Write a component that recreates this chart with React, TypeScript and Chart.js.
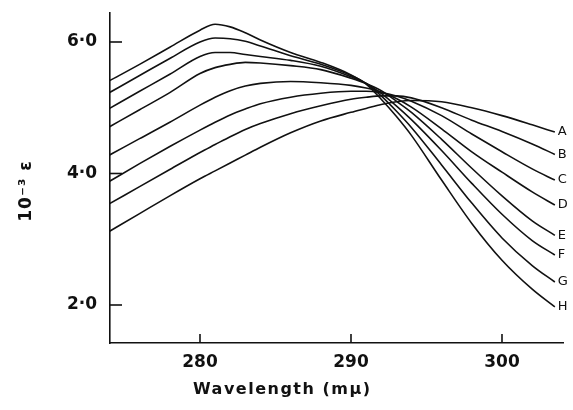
import React, { useEffect, useRef } from "react";
import { Chart, registerables } from "chart.js";

Chart.register(...registerables);

const wavelengths = [274, 276, 278, 280, 281, 282, 283, 284, 286, 288, 290, 291, 292, 293, 294, 296, 298, 300, 302, 303.5];

const curveA = [3.12, 3.39, 3.66, 3.92, 4.04, 4.16, 4.28, 4.40, 4.62, 4.80, 4.93, 4.99, 5.05, 5.09, 5.11, 5.09, 5.00, 4.88, 4.74, 4.63];
const curveB = [3.54, 3.80, 4.06, 4.32, 4.44, 4.56, 4.67, 4.76, 4.91, 5.03, 5.13, 5.16, 5.18, 5.18, 5.15, 5.00, 4.81, 4.64, 4.45, 4.29];
const curveC = [3.88, 4.15, 4.41, 4.66, 4.78, 4.89, 4.98, 5.06, 5.16, 5.22, 5.25, 5.25, 5.23, 5.18, 5.10, 4.88, 4.60, 4.33, 4.07, 3.90];
const curveD = [4.28, 4.53, 4.78, 5.04, 5.16, 5.26, 5.33, 5.37, 5.40, 5.38, 5.34, 5.30, 5.24, 5.14, 5.01, 4.68, 4.33, 4.02, 3.72, 3.52];
const curveE = [4.71, 4.97, 5.23, 5.52, 5.61, 5.66, 5.69, 5.68, 5.64, 5.58, 5.45, 5.37, 5.26, 5.10, 4.93, 4.52, 4.08, 3.66, 3.28, 3.06];
const curveF = [4.99, 5.25, 5.51, 5.78, 5.84, 5.84, 5.81, 5.78, 5.72, 5.63, 5.47, 5.37, 5.22, 5.03, 4.82, 4.35, 3.85, 3.38, 2.98, 2.76];
const curveG = [5.23, 5.49, 5.75, 6.00, 6.06, 6.05, 6.01, 5.94, 5.79, 5.66, 5.49, 5.37, 5.18, 4.95, 4.70, 4.13, 3.55, 3.02, 2.60, 2.35];
const curveH = [5.41, 5.66, 5.92, 6.18, 6.27, 6.23, 6.14, 6.03, 5.84, 5.69, 5.50, 5.36, 5.13, 4.87, 4.58, 3.90, 3.24, 2.68, 2.24, 1.97];

const curveNames = ["A", "B", "C", "D", "E", "F", "G", "H"];
const curves = [curveA, curveB, curveC, curveD, curveE, curveF, curveG, curveH];

const xTicks = [280, 290, 300];
const yTicks = [2, 4, 6];
const yTickLabels = ["2·0", "4·0", "6·0"];
const xTitle = "Wavelength (mμ)";

export default function App() {
  const canvasRef = useRef<HTMLCanvasElement | null>(null);

  useEffect(() => {
    const canvas = canvasRef.current;
    if (!canvas) return;

    const decor = {
      id: "decor",
      afterDraw(chart: any) {
        const { ctx, chartArea, scales } = chart;
        const xs = scales.x;
        const ys = scales.y;
        ctx.save();
        ctx.strokeStyle = "#111";
        ctx.lineWidth = 1.6;
        // inward ticks
        xTicks.forEach((v) => {
          const px = xs.getPixelForValue(v);
          ctx.beginPath();
          ctx.moveTo(px, chartArea.bottom);
          ctx.lineTo(px, chartArea.bottom - 9);
          ctx.stroke();
        });
        yTicks.forEach((v) => {
          const py = ys.getPixelForValue(v);
          ctx.beginPath();
          ctx.moveTo(chartArea.left, py);
          ctx.lineTo(chartArea.left + 12, py);
          ctx.stroke();
        });
        // curve end labels
        ctx.fillStyle = "#111";
        ctx.font = "13px 'DejaVu Sans'";
        ctx.textAlign = "left";
        ctx.textBaseline = "middle";
        curves.forEach((arr, i) => {
          const last = arr.length - 1;
          const px = xs.getPixelForValue(wavelengths[last]);
          const py = ys.getPixelForValue(arr[last]);
          ctx.fillText(curveNames[i], px + 3, py);
        });
        // x title
        ctx.font = "bold 16px 'DejaVu Sans'";
        (ctx as any).letterSpacing = "1.5px";
        ctx.textAlign = "left";
        ctx.textBaseline = "middle";
        ctx.fillText(xTitle, 193, 390);
        // y title
        ctx.translate(27, 191);
        ctx.rotate(-Math.PI / 2);
        ctx.textAlign = "center";
        ctx.font = "bold 17px 'DejaVu Sans'";
        (ctx as any).letterSpacing = "1px";
        ctx.fillText("10⁻³ ε", 0, 0);
        ctx.restore();
      },
    };

    const chart = new Chart(canvas, {
      type: "line",
      data: {
        datasets: curves.map((arr, i) => ({
          label: curveNames[i],
          data: wavelengths.map((x, j) => ({ x, y: arr[j] })),
          borderColor: "#111",
          borderWidth: 1.6,
          pointRadius: 0,
          fill: false,
          cubicInterpolationMode: "monotone" as const,
        })),
      },
      options: {
        animation: false,
        responsive: false,
        maintainAspectRatio: false,
        layout: { padding: { top: 13, right: 10, left: 0, bottom: 0 } },
        plugins: {
          legend: { display: false },
          tooltip: { enabled: false },
          title: { display: false },
        },
        scales: {
          x: {
            type: "linear",
            min: 274.04,
            max: 304.04,
            grid: { display: false, drawTicks: false },
            border: { display: true, color: "#111", width: 1.6 },
            afterBuildTicks: (axis: any) => {
              axis.ticks = xTicks.map((v) => ({ value: v }));
            },
            afterFit: (axis: any) => {
              axis.height = 67;
              axis.paddingLeft = 0;
              axis.paddingRight = 0;
            },
            ticks: {
              color: "#111",
              padding: 9,
              maxRotation: 0,
              font: { family: "'DejaVu Sans'", size: 17, weight: "bold" },
              callback: (v: any) => String(v),
            },
          },
          y: {
            type: "linear",
            min: 1.422,
            max: 6.441,
            grid: { display: false, drawTicks: false },
            border: { display: true, color: "#111", width: 1.6 },
            afterBuildTicks: (axis: any) => {
              axis.ticks = yTicks.map((v) => ({ value: v }));
            },
            afterFit: (axis: any) => {
              axis.width = 110;
              axis.paddingTop = 0;
              axis.paddingBottom = 0;
            },
            ticks: {
              color: "#111",
              padding: 13,
              font: { family: "'DejaVu Sans'", size: 17, weight: "bold" },
              callback: (v: any) => {
                const idx = yTicks.indexOf(Number(v));
                return idx >= 0 ? yTickLabels[idx] : "";
              },
            },
          },
        },
      },
      plugins: [decor],
    });

    return () => chart.destroy();
  }, []);

  return (
    <div style={{ position: "absolute", left: 0, top: 0, width: 573, height: 410, background: "#fff" }}>
      <canvas ref={canvasRef} width={573} height={410} style={{ width: 573, height: 410, display: "block" }} />
    </div>
  );
}
